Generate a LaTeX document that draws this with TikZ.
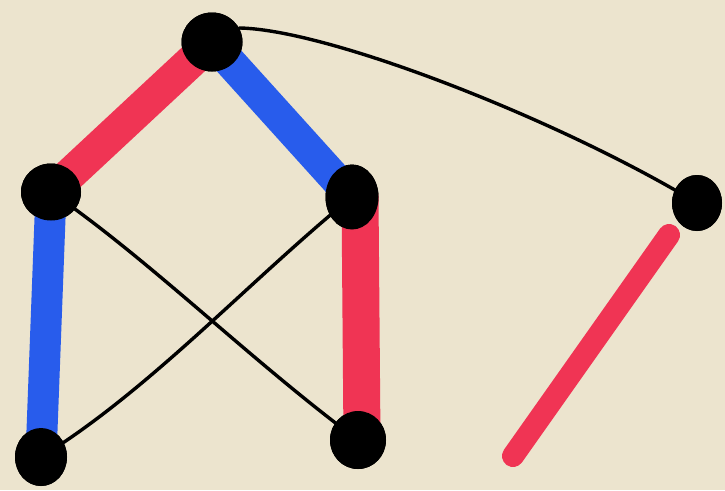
\documentclass[tikz,border=0pt]{standalone}
\usetikzlibrary{shapes.geometric}
\definecolor{paper}{RGB}{236,228,206}
\definecolor{pen red}{RGB}{240,52,84}
\definecolor{pen blue}{RGB}{40,92,236}
\tikzset{
  dot/.style={ellipse, fill=black, draw=none, inner sep=0pt},
  thickred/.style={line width=33pt, pen red, line cap=round},
  thickblue/.style={line width=32pt, pen blue, line cap=round},
  thin/.style={line width=3.4pt, black, line cap=round}
}
\begin{document}
\begin{tikzpicture}[x=1pt,y=-1pt]
\fill[paper] (0,0) rectangle (725,490);
\useasboundingbox (0,0) rectangle (725,490);
\node[dot, minimum width=61pt, minimum height=59pt] (t) at (212,42) {};
\node[dot, minimum width=60pt, minimum height=57pt] (l) at (51,192) {};
\node[dot, minimum width=53pt, minimum height=65pt] (r) at (352,197) {};
\node[dot, minimum width=52pt, minimum height=58pt] (bl) at (41,457) {};
\node[dot, minimum width=56pt, minimum height=58pt] (bm) at (358,440) {};
\node[dot, minimum width=50pt, minimum height=56pt] (fr) at (697,203) {};
\coordinate (s1) at (669,235);
\coordinate (s2) at (513,456);
% thick coloured edges
\draw[thickred] (t.center) -- (l.center);
\draw[thickblue] (t.center) -- (r.center);
\draw[thickblue, line width=31pt] (l.center) -- (bl.center);
\draw[thickred, line width=37pt] ([xshift=8pt]r.center) -- ([xshift=4pt]bm.center);
\draw[thickred, line width=22pt] (s1) -- (s2);
% thin edges
\draw[thin] (l.center) .. controls (150,260) and (250,360) .. (bm.center);
\draw[thin] (r.center) .. controls (250,280) and (150,390) .. (bl.center);
\draw[thin] (t.center) -- (240,28) .. controls (330,30) and (560,120) .. (fr.center);
% nodes on top
\foreach \x/\y/\w/\h in {212/42/61/59, 51/192/60/57, 352/197/53/65, 41/457/52/58, 358/440/56/58, 697/203/50/56}
  \node[dot, minimum width=\w pt, minimum height=\h pt] at (\x,\y) {};
\end{tikzpicture}
\end{document}
